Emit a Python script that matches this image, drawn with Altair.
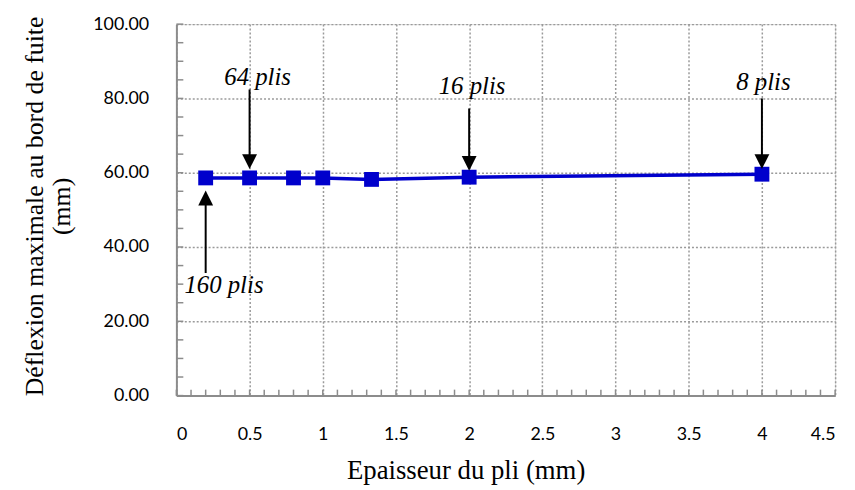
import altair as alt
import pandas as pd

# ---- data ----
thickness = [0.2, 0.5, 0.8, 1.0, 1.333, 2.0, 4.0]
deflection = [58.6, 58.6, 58.6, 58.6, 58.2, 58.8, 59.6]

x_ticks = [0, 0.5, 1, 1.5, 2, 2.5, 3, 3.5, 4, 4.5]
y_ticks = [0, 20, 40, 60, 80, 100]
x_minor = [round(i * 0.1, 1) for i in range(46)]
y_minor = list(range(0, 101, 5))

x_title = "Epaisseur du pli (mm)"
y_title_lines = ["Déflexion maximale au bord de fuite", "(mm)"]

ann_label = ["160 plis", "64 plis", "16 plis", "8 plis"]
ann_text_x = [0.325, 0.555, 2.02, 4.01]
ann_text_y = [27.7, 83.7, 81.3, 82.4]
ann_x = [0.2, 0.5, 2.0, 4.0]
ann_shaft_from = [33.0, 82.4, 77.3, 80.0]
ann_shaft_to = [53.0, 63.0, 62.5, 63.0]
ann_tip = [55.2, 61.0, 60.5, 61.0]
ann_dir = ["up", "down", "down", "down"]

BLUE = "#0000CC"
GRID = "#9a9a9a"
AXIS = "#8c8c8c"
SERIF = "Liberation Serif"

xs = alt.Scale(domain=[0, 4.5], nice=False, zero=False)
ys = alt.Scale(domain=[0, 100], nice=False, zero=False)

xaxis = alt.Axis(values=x_ticks, format="~g", title=x_title)
yaxis = alt.Axis(values=y_ticks, format=".2f", title=None)


def X(f):
    return alt.X(f, type="quantitative", scale=xs, axis=xaxis)


def Y(f):
    return alt.Y(f, type="quantitative", scale=ys, axis=yaxis)


series = pd.DataFrame({"x": thickness, "y": deflection})
line = alt.Chart(series).mark_line(color=BLUE, strokeWidth=3.5).encode(x=X("x"), y=Y("y"))
pts = alt.Chart(series).mark_point(shape="square", filled=True, size=225, color=BLUE, opacity=1).encode(
    x=X("x"), y=Y("y"))

xm = pd.DataFrame({"x": x_minor})
ym = pd.DataFrame({"y": y_minor})
xminor = alt.Chart(xm).mark_rule(color=AXIS, strokeWidth=1.5).encode(
    x=X("x"), y=alt.value(375), y2=alt.value(369))
yminor = alt.Chart(ym).mark_rule(color=AXIS, strokeWidth=1.5).encode(
    y=Y("y"), x=alt.value(0), x2=alt.value(7))

ann = pd.DataFrame({
    "label": ann_label, "tx": ann_text_x, "ty": ann_text_y, "x": ann_x,
    "y": ann_shaft_from, "y2": ann_shaft_to, "tip": ann_tip, "dir": ann_dir,
})
shafts = alt.Chart(ann).mark_rule(color="black", strokeWidth=2).encode(
    x=X("x"), y=Y("y"), y2="y2:Q")
heads_down = alt.Chart(ann).transform_filter(alt.datum.dir == "down").mark_point(
    shape="M0,0L-0.5,-1L0.5,-1Z", filled=True, size=900, color="black", opacity=1).encode(
    x=X("x"), y=Y("tip"))
heads_up = alt.Chart(ann).transform_filter(alt.datum.dir == "up").mark_point(
    shape="M0,0L-0.5,1L0.5,1Z", filled=True, size=900, color="black", opacity=1).encode(
    x=X("x"), y=Y("tip"))
texts = alt.Chart(ann).mark_text(
    font=SERIF, fontStyle="normal", fontSize=25, baseline="alphabetic",
    align="center", color="black").encode(x=X("tx"), y=Y("ty"), text="label:N")
texts = texts.mark_text(
    font=SERIF, fontStyle="italic", fontSize=25, baseline="alphabetic",
    align="center", color="black")

# y-axis title drawn as two rotated single-line texts
ytitle_df = pd.DataFrame({"t": y_title_lines, "px": [-135, -107]})
ytitle = alt.Chart(ytitle_df).mark_text(
    font=SERIF, fontStyle="normal", fontSize=26, angle=270, align="center",
    baseline="alphabetic", color="black",
).encode(x=alt.X("px:Q", scale=None, axis=None), y=alt.value(184), text="t:N")

common = dict(
    grid=True, gridDash=[2, 2], gridColor=GRID, gridWidth=1.5, gridOpacity=1,
    domainColor=AXIS, domainWidth=2, ticks=False,
    labelFont="Lato", labelFontSize=18, labelColor="black", labelFontWeight="normal",
    titleFont=SERIF, titleFontSize=27, titleFontWeight="normal",
    titleColor="black",
)

chart = alt.layer(
    xminor, yminor, line, pts, shafts, heads_down, heads_up, texts, ytitle
).properties(
    width=665, height=375,
    autosize=alt.AutoSizeParams(type="none"),
    padding={"left": 170, "top": 14, "right": 12, "bottom": 90},
).configure_view(stroke=None).configure(background="white").configure_axisX(
    labelPadding=30, titleX=292, titleY=84, titleBaseline="alphabetic", titleAlign="center",
    **common,
).configure_axisY(
    labelPadding=28,
    **common,
)

chart.save("out.html", embed_options={"renderer": "svg", "actions": False})
